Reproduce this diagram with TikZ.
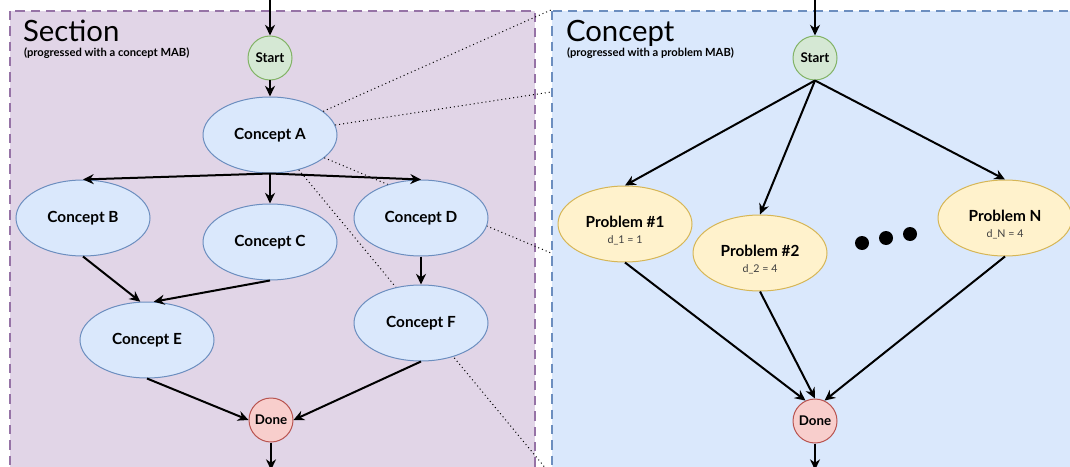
\documentclass[tikz,border=0pt]{standalone}
\usepackage{fontspec}
\setmainfont{Lato}
\usepackage{tikz}
\usetikzlibrary{positioning}
\usetikzlibrary{arrows.meta}
\usetikzlibrary{shapes}
\definecolor{sectionfill}{HTML}{E1D5E7}
\definecolor{sectionline}{HTML}{9673A6}
\definecolor{conceptfill}{HTML}{DAE8FC}
\definecolor{conceptline}{HTML}{6C8EBF}
\definecolor{problemfill}{HTML}{FFF2CC}
\definecolor{problemline}{HTML}{D6B656}
\definecolor{startfill}{HTML}{D5E8D4}
\definecolor{startline}{HTML}{82B366}
\definecolor{donefill}{HTML}{F8CECC}
\definecolor{doneline}{HTML}{B85450}
\newcommand{\dlabel}[1]{\\[-1pt]{\mdseries\fontsize{8}{9}\selectfont\color{black!75}#1}}
\tikzset{concept node/.style={ellipse,fill=conceptfill,draw=conceptline,line width=0.75pt,minimum width=100.5pt,minimum height=57pt,inner sep=0pt,font=\bfseries\fontsize{11.5}{13}\selectfont},
problem node/.style={concept node,fill=problemfill,draw=problemline,align=center},
start node/.style={circle,fill=startfill,draw=startline,line width=0.75pt,minimum size=33pt,inner sep=0pt,font=\bfseries\fontsize{10}{12}\selectfont},
done node/.style={start node,fill=donefill,draw=doneline},
panel/.style={-,line width=1.5pt,dash pattern=on 7pt off 4.5pt},
zoom line/.style={-,line width=0.75pt,dash pattern=on 0.75pt off 2.25pt},
title/.style={anchor=base west,inner sep=0pt,text depth=0pt,font=\fontsize{22}{26}\selectfont},
subtitle/.style={anchor=base west,inner sep=0pt,font=\bfseries\fontsize{8.4}{9}\selectfont},
dots/.style={fill=black}}

\begin{document}
\begin{tikzpicture}[->, >={Stealth[length=8pt,width=7.5pt]}, x=0.75pt, y=-0.75pt, line width=1.5pt]
	\useasboundingbox (0,0) rectangle (1070,467);
	\begin{scope}
	    \clip (0,0) rectangle (1070,467);
	    % panels
	    \draw[panel,draw=sectionline,fill=sectionfill] (10,11) rectangle (535,490);
	    \draw[panel,draw=conceptline,fill=conceptfill] (552,11) rectangle (1090,490);

	    \node[title] (sectiontitle) at (22,42) {Section};
	    \node[subtitle] (sectionsub) at (23,57) {(progressed with a concept MAB)};
	    \node[title] (concepttitle) at (565,42) {Concept};
	    \node[subtitle] (conceptsub) at (566,57) {(progressed with a problem MAB)};

	    % section graph
	    \coordinate (inL) at (270,-2);
	    \coordinate (outL) at (271,470);
	    \node[start node] (startL) at (270,58) {Start};
	    \node[concept node] (A) at (270,135) {Concept A};

	    % zoom lines to the concept panel
	    \coordinate (zoom1) at (551,10);
	    \coordinate (zoom2) at (551,92);
	    \coordinate (zoom3) at (551,253);
	    \coordinate (zoom4) at (552,476);
	    \draw[zoom line] (A) -- (zoom1);
	    \draw[zoom line] (A) -- (zoom2);
	    \draw[zoom line] (A) -- (zoom3);
	    \draw[zoom line] (A) -- (zoom4);

	    \node[concept node] (B) at (83,218) {Concept B};
	    \node[concept node] (C) at (270,242) {Concept C};
	    \node[concept node] (D) at (421,218) {Concept D};
	    \node[concept node] (E) at (147,340) {Concept E};
	    \node[concept node] (F) at (421,323) {Concept F};
	    \node[done node] (doneL) at (271,420) {Done};

	    \path
	    (inL) edge (startL)
	    (startL) edge (A)
	    (A.south) edge (B.north)
	    (A.south) edge (C.north)
	    (A.south) edge (D.north)
	    (B.south) edge (E.100)
	    (C.south) edge (E.80)
	    (D.south) edge (F.north)
	    (E.south) edge (doneL.west)
	    (F.south) edge (doneL.east)
	    (doneL) edge (outL);

	    % concept graph
	    \coordinate (inR) at (815,-2);
	    \coordinate (outR) at (815,470);
	    \node[start node] (startR) at (815,58) {Start};
	    \node[problem node] (P1) at (625,224) {\rule{0pt}{18pt}Problem \#1\dlabel{d\_1 = 1}};
	    \node[problem node] (P2) at (760,253) {\rule{0pt}{18pt}Problem \#2\dlabel{d\_2 = 4}};
	    \node[problem node] (PN) at (1005,218) {\rule{0pt}{18pt}Problem N\dlabel{d\_N = 4}};
	    \node[done node] (doneR) at (815,421) {Done};
	    \fill[dots] (862,243) circle (5.25pt) (886,238) circle (5.25pt) (910,234) circle (5.25pt);

	    \path
	    (inR) edge (startR)
	    (startR.south) edge (P1.north)
	    (startR.south) edge (P2.north)
	    (startR.south) edge (PN.north)
	    (P1.south) edge (doneR.115)
	    (P2.south) edge (doneR.north)
	    (PN.south) edge (doneR.65)
	    (doneR) edge (outR);
	\end{scope}
\end{tikzpicture}
\end{document}
